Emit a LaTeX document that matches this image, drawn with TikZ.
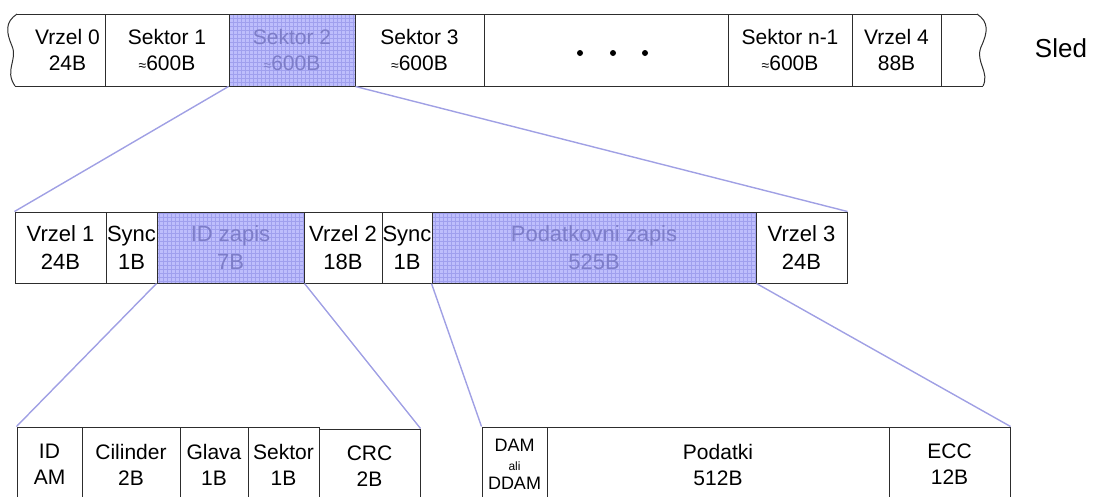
\documentclass[tikz,border=0pt]{standalone}
\usepackage{fontspec}
\setmainfont{Liberation Sans}
\definecolor{hifill}{RGB}{190,190,252}
\definecolor{higrid}{RGB}{160,160,238}
\definecolor{hitext}{RGB}{125,125,200}
\definecolor{linkcol}{RGB}{160,160,228}
\definecolor{edgecol}{RGB}{45,45,45}
\newcommand{\apx}{{\fontsize{14}{14}\selectfont ≈}}
\begin{document}
\begin{tikzpicture}[x=1pt,y=-1pt,
  cell/.style={draw=edgecol, line width=1pt, inner sep=0pt, align=center, minimum height=72pt},
  topf/.style={font=\fontsize{21}{26}\selectfont},
  midf/.style={font=\fontsize{22}{28}\selectfont, minimum height=71pt},
  botf/.style={font=\fontsize{21}{26}\selectfont, minimum height=75pt},
  hi/.style={fill=hifill, text=hitext,
    path picture={\draw[higrid, line width=0.4pt, step=4pt] (path picture bounding box.south west) grid (path picture bounding box.north east);}},
  linkline/.style={draw=linkcol, line width=1.4pt},
  frame/.style={draw=edgecol, line width=1pt}]
\useasboundingbox (0,0) rectangle (1098,496);

% ---- top row (Sled)
\coordinate (tl) at (17,14);
\coordinate (tr) at (977,14);
\coordinate (bl) at (15,86);
\coordinate (br) at (983,86);
\draw[frame] (tl) -- (tr);
\draw[frame] (bl) -- (br);
\draw[frame] (tl) .. controls (5,22) and (6,32) .. (12,46) .. controls (18,60) and (4,70) .. (bl);
\draw[frame] (tr) .. controls (989,22) and (988,32) .. (981,47) .. controls (975,62) and (990,72) .. (br);
\node[cell, topf, draw=none, minimum width=75pt] (v0) at (67.5,50) {Vrzel 0\\24B};
\node[cell, topf, minimum width=124pt] (s1) at (167,50) {Sektor 1\\\apx600B};
\node[cell, topf, hi, minimum width=126pt] (s2) at (292,50) {Sektor 2\\\apx600B};
\node[cell, topf, minimum width=129pt] (s3) at (419.5,50) {Sektor 3\\\apx600B};
\node[cell, topf, minimum width=244pt] (dots) at (606,50) {};
\node[cell, topf, minimum width=124pt] (sn) at (790,50) {Sektor n-1\\\apx600B};
\node[cell, topf, minimum width=89pt] (v4) at (896.5,50) {Vrzel 4\\88B};
\fill (580,53) circle (3pt) (613,53) circle (3pt) (645,53) circle (3pt);
\node[font=\fontsize{26}{30}\selectfont, inner sep=0pt] (sled) at (1061,48) {Sled};

% ---- middle row
\node[cell, midf, minimum width=91pt] (v1) at (60.5,247.5) {Vrzel 1\\24B};
\node[cell, midf, minimum width=51pt] (sy1) at (131.5,247.5) {Sync\\1B};
\node[cell, midf, hi, minimum width=147pt] (id) at (230.5,247.5) {ID zapis\\7B};
\node[cell, midf, minimum width=78pt] (v2) at (343,247.5) {Vrzel 2\\18B};
\node[cell, midf, minimum width=50pt] (sy2) at (407,247.5) {Sync\\1B};
\node[cell, midf, hi, minimum width=324pt] (pz) at (594,247.5) {Podatkovni zapis\\525B};
\node[cell, midf, minimum width=91pt] (v3) at (801.5,247.5) {Vrzel 3\\24B};

% ---- bottom row
\node[cell, botf, minimum width=65pt] (idam) at (49.5,464.5) {ID\\AM};
\node[cell, botf, minimum width=98pt] (cil) at (131,464.5) {Cilinder\\2B};
\node[cell, botf, minimum width=68pt] (gl) at (214,464.5) {Glava\\1B};
\node[cell, botf, minimum width=71pt] (sk) at (283.5,464.5) {Sektor\\1B};
\node[cell, botf, minimum width=101pt] (crc) at (369.5,466.5) {CRC\\2B};
\node[cell, botf, font=\fontsize{18}{19}\selectfont, minimum width=65pt] (dam) at (514.5,464.5) {DAM\\{\fontsize{12}{12}\selectfont ali}\\DDAM};
\node[cell, botf, minimum width=342pt] (pod) at (718,464.5) {Podatki\\512B};
\node[cell, botf, minimum width=121pt] (ecc) at (949.5,464.5) {ECC\\12B};

% ---- connectors
\draw[linkline] (s2.south west) -- (v1.north west);
\draw[linkline] (s2.south east) -- (v3.north east);
\draw[linkline] (id.south west) -- (idam.north west);
\draw[linkline] (id.south east) -- (crc.north east);
\draw[linkline] (pz.south west) -- (dam.north west);
\draw[linkline] (pz.south east) -- (ecc.north east);
\end{tikzpicture}
\end{document}
